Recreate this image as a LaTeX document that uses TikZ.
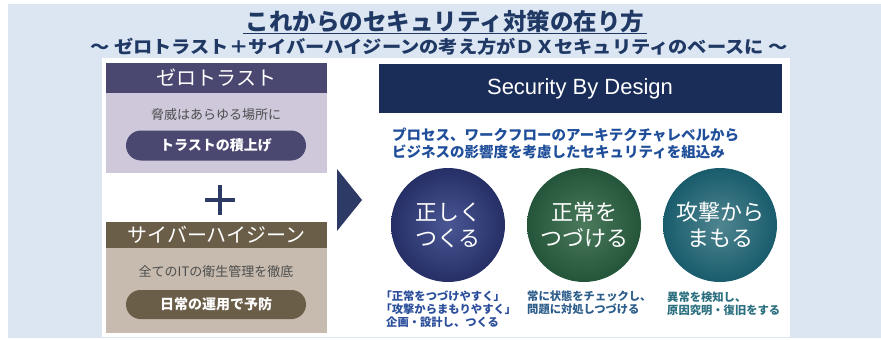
\documentclass[tikz,border=0pt]{standalone}
\usepackage{fontspec}
\setmainfont{Liberation Sans}
\newfontfamily\jp{Noto Sans CJK JP}
\definecolor{bgblue}{HTML}{DCE6F2}
\definecolor{titlecol}{HTML}{1F3864}
\definecolor{ztdark}{HTML}{4A4870}
\definecolor{ztlight}{HTML}{CEC8DA}
\definecolor{hgdark}{HTML}{6B5E49}
\definecolor{hglight}{HTML}{C6BBAE}
\definecolor{navy}{HTML}{2E3A66}
\definecolor{sbd}{HTML}{1A2D58}
\definecolor{bluetxt}{HTML}{1F4E9A}
\definecolor{capblue}{HTML}{2B4E9B}
\definecolor{capgreen}{HTML}{2D5D8A}
\definecolor{capteal}{HTML}{2C7080}
\definecolor{grytxt}{HTML}{4D4D4D}
\definecolor{c1out}{HTML}{262F66}
\definecolor{c1in}{HTML}{4A5794}
\definecolor{c2out}{HTML}{24553A}
\definecolor{c2in}{HTML}{4B7A5C}
\definecolor{c3out}{HTML}{195C6C}
\definecolor{c3in}{HTML}{4F8590}
\begin{document}
\begin{tikzpicture}[x=1pt,y=-1pt,
  panel/.style={anchor=north west, inner sep=0, outer sep=0},
  hdr/.style={panel, text=white, font=\jp\fontsize{20}{20}\selectfont},
  desc/.style={inner sep=0, text=grytxt, font=\jp\fontsize{13}{13}\selectfont},
  pill/.style={minimum width=180, minimum height=30, rounded corners=15, inner sep=0, text=white, font=\jp\bfseries\fontsize{14}{14}\selectfont},
  disc/.style={circle, minimum size=114, inner sep=0, text=white, align=center, font=\jp\fontsize{22}{26}\selectfont},
  captext/.style={anchor=north west, inner sep=0, align=left, font=\jp\bfseries\fontsize{11.3}{12.7}\selectfont},
  blueline/.style={anchor=west, inner sep=0, text=bluetxt, font=\jp\bfseries\fontsize{14.5}{14.5}\selectfont}
]
\useasboundingbox (0,0) rectangle (881,340);
\fill[bgblue] (8,4) rectangle (881,338);
\fill[white] (102,58) rectangle (790,337);

% titles
\node[inner sep=0, text=titlecol, font=\jp\bfseries\fontsize{23.5}{23.5}\selectfont] (title) at (445,22) {これからのセキュリティ対策の在り方};
\draw[titlecol, line width=1.3] (243,33.5) -- (647,33.5);
\node[inner sep=0, text=titlecol, font=\jp\bfseries\fontsize{17.5}{17.5}\selectfont] (sub) at (439,47) {\scalebox{1.1}[1]{～ ゼロトラスト＋サイバーハイジーンの考え方がＤＸセキュリティのベースに ～}};

% zero trust
\node[hdr, fill=ztdark, minimum width=221, minimum height=30] (zthead) at (106,63) {ゼロトラスト};
\node[panel, fill=ztlight, minimum width=221, minimum height=80] (ztbody) at (106,93) {};
\node[desc] (zttext) at (216,115) {脅威はあらゆる場所に};
\node[pill, fill=ztdark] (ztpill) at (216,145.5) {トラストの積上げ};

% plus
\draw[navy, line width=4.5] (205,200) -- (235,200);
\draw[navy, line width=4.5] (220,185) -- (220,215);

% cyber hygiene
\node[hdr, fill=hgdark, minimum width=221, minimum height=26] (hghead) at (106,222) {サイバーハイジーン};
\node[panel, fill=hglight, minimum width=221, minimum height=85] (hgbody) at (106,248) {};
\node[desc] (hgtext) at (216,272) {全てのITの衛生管理を徹底};
\node[pill, fill=hgdark, minimum height=29, rounded corners=14.5] (hgpill) at (216,304.5) {日常の運用で予防};

% arrow
\fill[navy] (337,169) -- (362,200) -- (337,231) -- cycle;

% security by design
\node[panel, fill=sbd, minimum width=403, minimum height=49] (sbdhead) at (379,64) {};
\node[inner sep=0, text=white, font=\fontsize{22}{22}\selectfont] (sbdtext) at (580,88.5) {Security By Design};
\node[blueline] (l1) at (392,135) {プロセス、ワークフローのアーキテクチャレベルから};
\node[blueline] (l2) at (392,152) {ビジネスの影響度を考慮したセキュリティを組込み};

% circles
\node[disc, inner color=c1in, outer color=c1out] (d1) at (448,225) {正しく\\つくる};
\node[disc, inner color=c2in, outer color=c2out] (d2) at (584,225) {正常を\\つづける};
\node[disc, inner color=c3in, outer color=c3out] (d3) at (720,225) {攻撃から\\まもる};

% captions
\node[captext, text=capblue] (cap1) at (386,291) {\hspace*{-0.5em}「正常をつづけやすく」\\\hspace*{-0.5em}「攻撃からまもりやすく」\\企画・設計し、つくる};
\node[captext, text=capgreen] (cap2) at (527,291) {常に状態をチェックし、\\問題に対処しつづける};
\node[captext, text=capteal] (cap3) at (667,292) {異常を検知し、\\原因究明・復旧をする};
\end{tikzpicture}
\end{document}
